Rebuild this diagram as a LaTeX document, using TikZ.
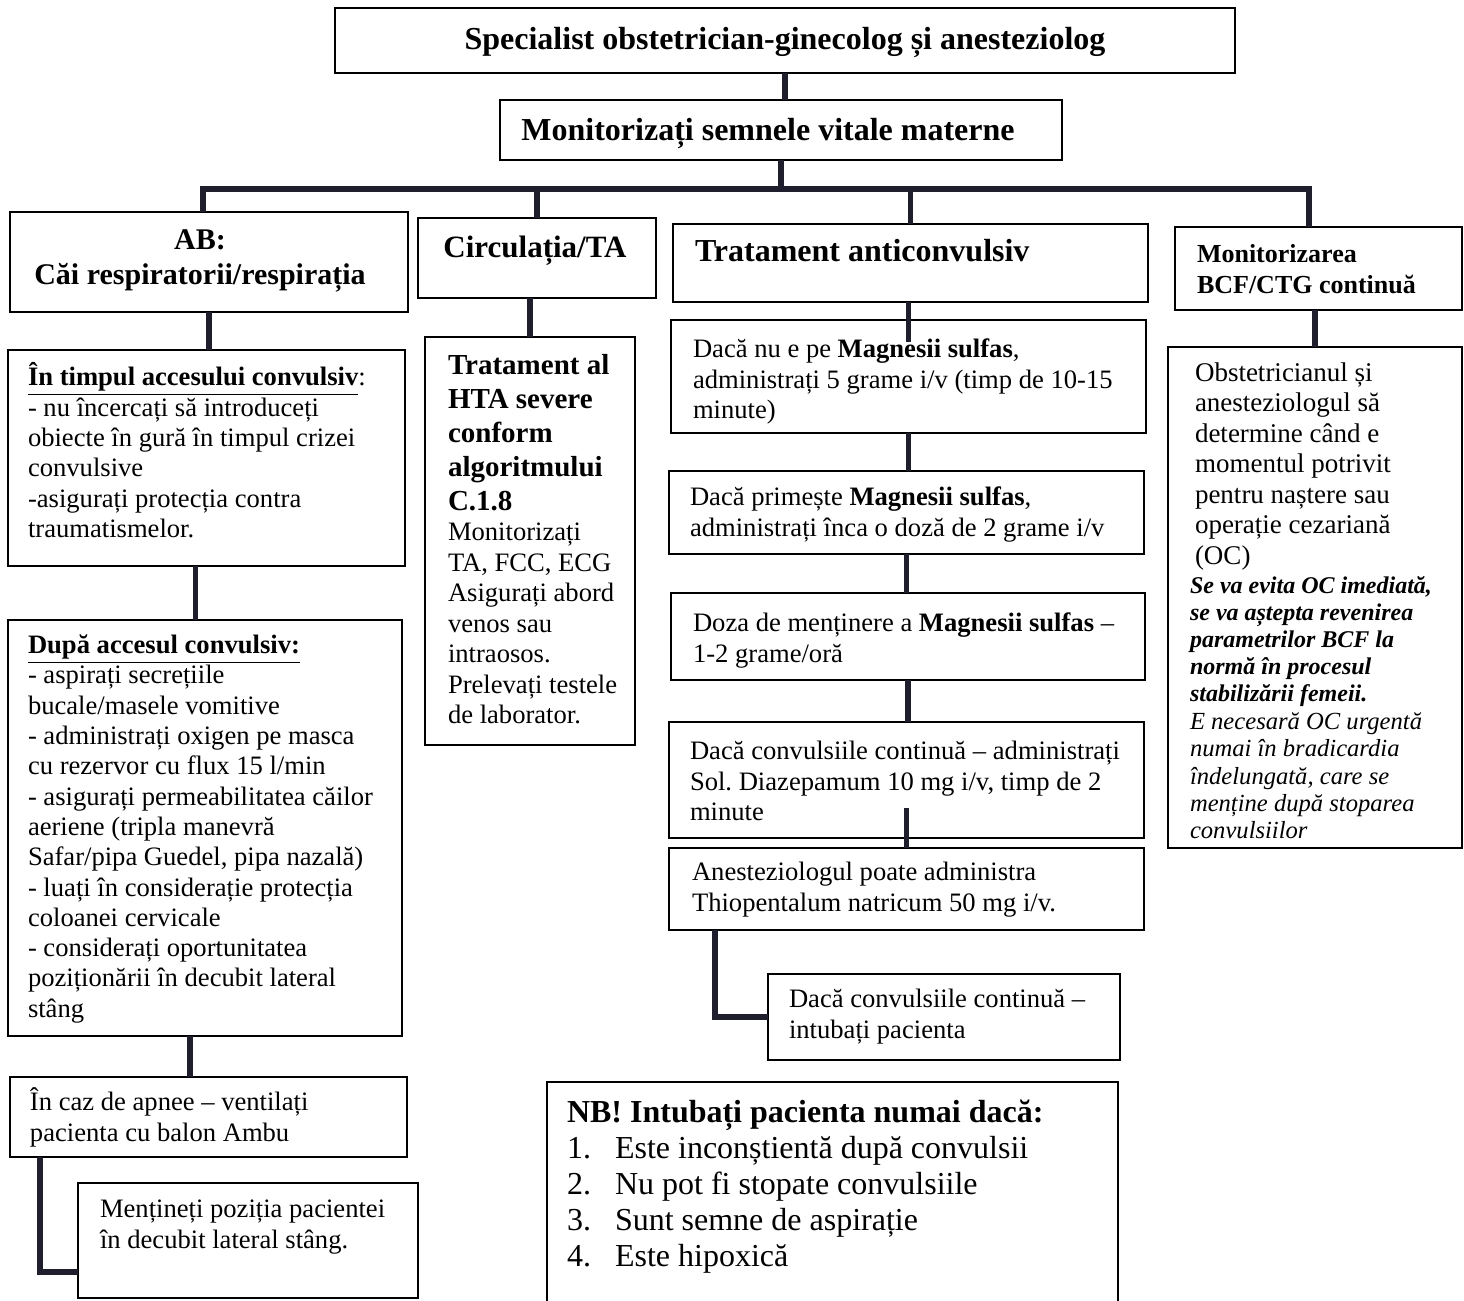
\documentclass[tikz,border=0pt]{standalone}
\usepackage{fontspec}
\setmainfont{Liberation Serif}
\usetikzlibrary{calc}
\definecolor{conn}{HTML}{1E1E2C}
\newcommand\firstln{\rule{0pt}{1em}}
\newcommand\bx[5]{\node[box, anchor=north west, minimum width={(#4-#2)*0.5pt}, minimum height={(#5-#3)*0.5pt}] (#1) at (#2,#3) {};}
\frenchspacing
\begin{document}
\begin{tikzpicture}[x=0.5pt,y=-0.5pt,
  box/.style={draw=black, line width=1.1pt, inner sep=0pt, outer sep=0pt},
  wire/.style={draw=conn, line width=2.6pt},
  busline/.style={draw=conn, line width=3.4pt},
  txt/.style={anchor=north west, inner sep=0pt, outer sep=0pt, align=left},
  body/.style={font=\fontsize{13.3}{15.2}\selectfont},
  ttl/.style={inner sep=0pt, outer sep=0pt}]
\fill[white] (0,0) rectangle (1464,1301);
\clip (0,0) rectangle (1464,1301);

% ---------- boxes ----------
\bx{top}{335}{8}{1235}{73}
\bx{mon}{500}{100}{1062}{160}
\bx{ab}{10}{212}{408}{312}
\bx{circ}{418}{218}{656}{298}
\bx{trat}{673}{224}{1148}{302}
\bx{bcf}{1175}{227}{1462}{310}
\bx{timp}{8}{350}{405}{566}
\bx{hta}{425}{337}{635}{745}
\bx{mg1}{671}{320}{1146}{433}
\bx{mg2}{669}{471}{1144}{554}
\bx{mg3}{671}{593}{1145}{680}
\bx{diaz}{669}{722}{1144}{838}
\bx{thio}{669}{848}{1144}{930}
\bx{intub}{768}{974}{1120}{1060}
\bx{nb}{547}{1082}{1118}{1330}
\bx{dupa}{8}{620}{402}{1036}
\bx{apnee}{10}{1077}{407}{1157}
\bx{pozit}{78}{1183}{418}{1298}
\bx{obst}{1168}{347}{1462}{848}

% ---------- connectors ----------
\draw[wire] (top.south) -- (top.south |- mon.north);
\coordinate (busL) at (203,189);
\coordinate (busR) at (1309,189);
\draw[wire] (mon.south) -- (mon.south |- busL);
\draw[busline] ([xshift=-1.3pt]busL) -- ([xshift=1.3pt]busR);
\draw[wire] (busL) -- (busL |- ab.north);
\draw[wire] (circ.north |- busL) -- (circ.north);
\draw[wire] (trat.north |- busL) -- (trat.north);
\draw[wire] (busR) -- (busR |- bcf.north);

\draw[wire] (ab.south) -- (ab.south |- timp.north);
\coordinate (c1) at ($(timp.south)+(-11,0)$);
\draw[wire] (c1) -- (c1 |- dupa.north);
\coordinate (c2) at ($(dupa.south)+(-15,0)$);
\draw[wire] (c2) -- (c2 |- apnee.north);
\draw[wire] ($(apnee.south west)+(30,0)$) |- ($(pozit.south west)+(0,-26)$);

\draw[wire] (hta.north |- circ.south) -- (hta.north);

\draw[wire] (mg1.north |- trat.south) -- ($(mg1.north)+(0,22)$);
\draw[wire] (mg1.south) -- (mg1.south |- mg2.north);
\draw[wire] (mg2.south) -- (mg2.south |- mg3.north);
\draw[wire] (mg3.south) -- (mg3.south |- diaz.north);
\draw[wire] ($(diaz.south)+(0,-30)$) -- (diaz.south |- thio.north);
\draw[wire] ($(thio.south west)+(46,0)$) |- (intub.west);

\draw[wire] (obst.north |- bcf.south) -- (obst.north);

% ---------- titles ----------
\node[ttl, font=\bfseries\fontsize{16}{19}\selectfont] (t-top) at (785,42) {Specialist obstetrician-ginecolog și anesteziolog};
\node[ttl, font=\bfseries\fontsize{16}{19}\selectfont] (t-mon) at (768,133) {Monitorizați semnele vitale materne};
\node[ttl, font=\bfseries\fontsize{15}{17.5}\selectfont, align=center] (t-ab) at (200,261) {AB:\\Căi respiratorii/respirația};
\node[ttl, font=\bfseries\fontsize{15.5}{18}\selectfont] (t-circ) at (535,251) {Circulația/TA};
\node[ttl, anchor=west, font=\bfseries\fontsize{16}{19}\selectfont] (t-trat) at (695,251) {Tratament anticonvulsiv};
\node[txt, font=\bfseries\fontsize{13}{15.5}\selectfont] (t-bcf) at (1197,236) {\firstln Monitorizarea\\BCF/CTG continuă};

% ---------- body texts ----------
\node[txt, body] (t-timp) at (28,359) {\firstln\textbf{\underline{În timpul accesului convulsiv}}:\\
- nu încercați să introduceți\\
obiecte în gură în timpul crizei\\
convulsive\\
-asigurați protecția contra\\
traumatismelor.};

\node[txt, font=\bfseries\fontsize{14.5}{17}\selectfont] (t-htab) at (448,345) {\firstln Tratament al\\HTA severe\\conform\\algoritmului\\C.1.8};
\node[txt, font=\fontsize{13.3}{15.25}\selectfont] (t-htar) at (448,514) {\firstln Monitorizați\\
TA, FCC, ECG\\
Asigurați abord\\
venos sau\\
intraosos.\\
Prelevați testele\\
de laborator.};

\node[txt, body] (t-mg1) at (693,331) {\firstln Dacă nu e pe \textbf{Magnesii sulfas},\\
administrați 5 grame i/v (timp de 10-15\\
minute)};
\node[txt, body] (t-mg2) at (690,479) {\firstln Dacă primește \textbf{Magnesii sulfas},\\
administrați înca o doză de 2 grame i/v};
\node[txt, body] (t-mg3) at (693,605) {\firstln Doza de menținere a \textbf{Magnesii sulfas} –\\
1-2 grame/oră};
\node[txt, body] (t-diaz) at (690,733) {\firstln Dacă convulsiile continuă – administrați\\
Sol. Diazepamum 10 mg i/v, timp de 2\\
minute};
\node[txt, body] (t-thio) at (692,854) {\firstln Anesteziologul poate administra\\
Thiopentalum natricum 50 mg i/v.};
\node[txt, body] (t-intub) at (789,981) {\firstln Dacă convulsiile continuă –\\
intubați pacienta};

\node[txt, font=\fontsize{13.3}{15.15}\selectfont] (t-dupa) at (28,627) {\firstln\textbf{\underline{După accesul convulsiv:}}\\
- aspirați secrețiile\\
bucale/masele vomitive\\
- administrați oxigen pe masca\\
cu rezervor cu flux 15 l/min\\
- asigurați permeabilitatea căilor\\
aeriene (tripla manevră\\
Safar/pipa Guedel, pipa nazală)\\
- luați în considerație protecția\\
coloanei cervicale\\
- considerați oportunitatea\\
poziționării în decubit lateral\\
stâng};

\node[txt, body] (t-apnee) at (30,1084) {\firstln În caz de apnee – ventilați\\
pacienta cu balon Ambu};
\node[txt, body] (t-pozit) at (100,1191) {\firstln Mențineți poziția pacientei\\
în decubit lateral stâng.};

\node[txt, font=\fontsize{13.5}{15.25}\selectfont] (t-obst1) at (1195,354) {\firstln Obstetricianul și\\
anesteziologul să\\
determine când e\\
momentul potrivit\\
pentru naștere sau\\
operație cezariană\\
(OC)};
\node[txt, font=\bfseries\itshape\fontsize{12}{13.6}\selectfont] (t-obst2) at (1190,569) {\firstln Se va evita OC imediată,\\
se va aștepta revenirea\\
parametrilor BCF la\\
normă în procesul\\
stabilizării femeii.};
\node[txt, font=\itshape\fontsize{12.3}{13.6}\selectfont] (t-obst3) at (1190,705) {\firstln E necesară OC urgentă\\
numai în bradicardia\\
îndelungată, care se\\
menține după stoparea\\
convulsiilor};

\node[txt, font=\bfseries\fontsize{16}{18}\selectfont] (t-nb) at (567,1090) {\firstln NB! Intubați pacienta numai dacă:};
\node[txt, font=\fontsize{16}{18}\selectfont] (t-nbl) at (567,1126) {\firstln\makebox[24pt][l]{1.}Este inconștientă după convulsii\\
\makebox[24pt][l]{2.}Nu pot fi stopate convulsiile\\
\makebox[24pt][l]{3.}Sunt semne de aspirație\\
\makebox[24pt][l]{4.}Este hipoxică};
\end{tikzpicture}
\end{document}
